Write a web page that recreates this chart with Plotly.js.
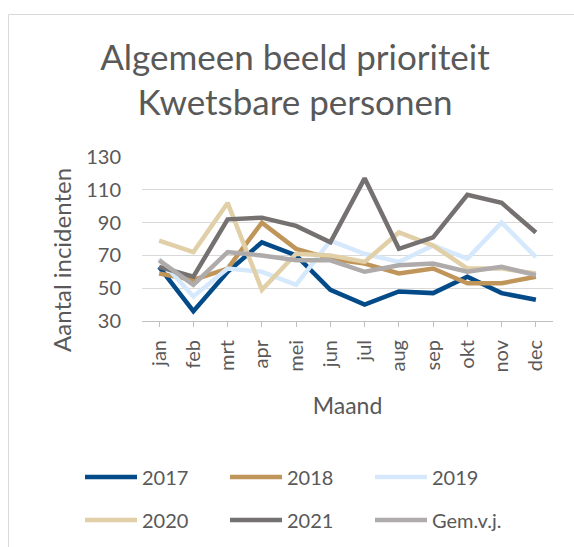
<!DOCTYPE html>
<html>
<head>
<meta charset="utf-8">
<script src="https://cdn.plot.ly/plotly-3.0.1.min.js"></script>
<style>
  html, body { margin: 0; padding: 0; background: #ffffff; }
  #chart { width: 574px; height: 547px; }
</style>
</head>
<body>
<div id="chart"></div>
<script>
const months = ["jan", "feb", "mrt", "apr", "mei", "jun", "jul", "aug", "sep", "okt", "nov", "dec"];
const y2017 = [63, 36, 60, 78, 70, 49, 40, 48, 47, 57, 47, 43];
const y2018 = [59, 55, 62, 90, 74, 68, 65, 59, 62, 53, 53, 57];
const y2019 = [68, 45, 62, 60, 52, 79, 71, 66, 76, 68, 90, 69];
const y2020 = [79, 72, 102, 49, 71, 70, 66, 84, 76, 62, 62, 59];
const y2021 = [63, 57, 92, 93, 88, 78, 117, 74, 81, 107, 102, 84];
const yGem  = [67, 52, 72, 70, 67, 67, 60, 64, 65, 60, 63, 58];
const seriesNames = ["2017", "2018", "2019", "2020", "2021", "Gem.v.j."];
const yTicks = [30, 50, 70, 90, 110, 130];

const colors = ["#034A89", "#C0955A", "#D6E9FC", "#E1CFA8", "#767171", "#AFABAB"];
const allData = [y2017, y2018, y2019, y2020, y2021, yGem];
const FONT = "Lato, 'Noto Sans', sans-serif";

// plot area in pixels
const PL = 142, PR = 553, PT = 157, PB = 321;
const PW = PR - PL, PH = PB - PT;
const px2x = (px) => (px - PL) / PW;
const py2y = (py) => (PB - py) / PH;

const legendIds = ["legend", "legend2", "legend3", "legend4", "legend5", "legend6"];
const legendCols = [80, 225, 370];
const legendRows = [477, 520];

const traces = allData.map((vals, i) => ({
  type: "scatter",
  mode: "lines",
  x: months,
  y: vals,
  name: seriesNames[i],
  line: { color: colors[i], width: 4.5 },
  legend: legendIds[i],
  hoverinfo: "x+y+name"
}));

const layout = {
  width: 574,
  height: 547,
  paper_bgcolor: "#ffffff",
  plot_bgcolor: "#ffffff",
  margin: { l: PL, r: 574 - PR, t: PT, b: 547 - PB, autoexpand: false },
  font: { family: FONT, color: "#595959" },
  title: {
    text: "Algemeen beeld prioriteit<br>Kwetsbare personen",
    font: { family: FONT, size: 35, color: "#595959" },
    x: 295 / 574,
    xanchor: "center",
    xref: "container",
    y: 1 - 69.5 / 547,
    yanchor: "middle",
    yref: "container"
  },
  xaxis: {
    type: "category",
    range: [-0.5, 11.5],
    tickangle: -90,
    tickfont: { family: FONT, size: 20, color: "#595959" },
    ticklabelstandoff: 5,
    showgrid: false,
    showline: true,
    linecolor: "#BFBFBF",
    linewidth: 1,
    ticks: "outside",
    ticklen: 5,
    tickcolor: "#BFBFBF",
    automargin: false,
    title: { text: "Maand", font: { family: FONT, size: 23, color: "#595959" }, standoff: 26 },
    fixedrange: true
  },
  yaxis: {
    range: [30, 130],
    tickvals: yTicks,
    ticktext: yTicks.map(String),
    tickfont: { family: FONT, size: 20, color: "#595959" },
    showgrid: true,
    gridcolor: "#D9D9D9",
    gridwidth: 1,
    zeroline: false,
    showline: false,
    ticks: "",
    ticklabelstandoff: 20,
    automargin: false,
    fixedrange: true
  },
  annotations: [
    {
      text: "Aantal incidenten",
      textangle: -90,
      xref: "paper", yref: "paper",
      x: px2x(61), y: py2y(260),
      xanchor: "center", yanchor: "middle",
      showarrow: false,
      font: { family: FONT, size: 24, color: "#595959" }
    }
  ],
  showlegend: true,
  shapes: [
    {
      type: "rect",
      xref: "paper", yref: "paper",
      x0: px2x(8.5), x1: px2x(620),
      y0: py2y(620), y1: py2y(14.5),
      line: { color: "#D9D9D9", width: 1 },
      fillcolor: "rgba(0,0,0,0)",
      layer: "below"
    }
  ]
};

legendIds.forEach((id, i) => {
  layout[id] = {
    orientation: "h",
    xanchor: "left",
    yanchor: "middle",
    x: px2x(legendCols[i % 3]),
    y: py2y(legendRows[Math.floor(i / 3)]),
    font: { family: FONT, size: 20, color: "#595959" },
    itemwidth: 52,
    bgcolor: "rgba(0,0,0,0)"
  };
});

Plotly.newPlot("chart", traces, layout, { displayModeBar: false });
</script>
</body>
</html>
